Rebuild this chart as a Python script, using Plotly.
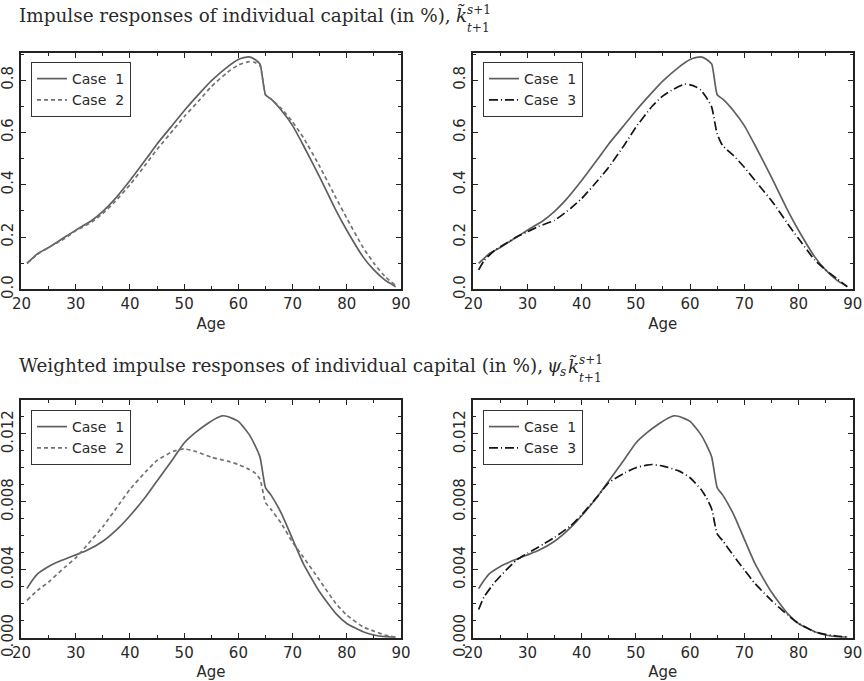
import plotly.graph_objects as go

# ---------------- data ----------------
age_c1_top = [21, 23, 25, 28, 30, 33, 35, 37, 40, 43, 45, 48, 50, 53, 55, 58, 60, 61, 62, 63, 64, 65, 66, 68, 70, 72, 75, 78, 80, 83, 85, 87, 89]
val_c1_top = [0.099, 0.137, 0.160, 0.200, 0.226, 0.264, 0.298, 0.340, 0.416, 0.499, 0.556, 0.632, 0.683, 0.753, 0.797, 0.851, 0.879, 0.886, 0.889, 0.880, 0.861, 0.744, 0.728, 0.683, 0.626, 0.550, 0.429, 0.302, 0.226, 0.124, 0.074, 0.036, 0.010]

age_c2_top = [21, 23, 25, 28, 30, 33, 35, 37, 40, 43, 45, 48, 50, 53, 55, 58, 60, 62, 63, 64, 65, 66, 68, 70, 72, 75, 78, 80, 83, 85, 87, 89]
val_c2_top = [0.099, 0.135, 0.160, 0.195, 0.224, 0.258, 0.290, 0.330, 0.400, 0.480, 0.535, 0.610, 0.660, 0.728, 0.775, 0.830, 0.858, 0.871, 0.868, 0.855, 0.744, 0.728, 0.690, 0.640, 0.580, 0.470, 0.350, 0.272, 0.160, 0.100, 0.050, 0.015]

age_c3_top = [21, 22, 24, 26, 28, 30, 32, 35, 38, 40, 43, 45, 48, 50, 53, 55, 57, 59, 60, 61, 62, 63, 64, 65, 66, 68, 70, 73, 75, 78, 80, 83, 85, 87, 89]
val_c3_top = [0.074, 0.110, 0.150, 0.175, 0.200, 0.220, 0.240, 0.264, 0.310, 0.347, 0.417, 0.467, 0.556, 0.620, 0.700, 0.740, 0.766, 0.785, 0.782, 0.775, 0.762, 0.734, 0.696, 0.594, 0.550, 0.512, 0.467, 0.390, 0.340, 0.251, 0.194, 0.112, 0.074, 0.042, 0.010]

age_c1_w = [21, 22, 23, 25, 27, 30, 32, 35, 38, 40, 43, 45, 48, 50, 52, 54, 56, 57, 58, 60, 62, 63, 64, 65, 66, 68, 70, 72, 75, 78, 80, 83, 85, 87, 89]
val_c1_w = [0.00289, 0.00338, 0.00377, 0.00420, 0.00450, 0.00488, 0.00513, 0.00568, 0.00650, 0.00718, 0.00835, 0.00923, 0.01056, 0.01147, 0.01206, 0.01254, 0.01294, 0.01307, 0.01303, 0.01274, 0.01196, 0.01137, 0.01063, 0.00884, 0.00841, 0.00728, 0.00581, 0.00435, 0.00269, 0.00142, 0.00084, 0.00035, 0.00016, 0.00006, 0.00002]

age_c2_w = [21, 23, 25, 28, 30, 32, 35, 38, 40, 43, 45, 48, 50, 52, 55, 58, 60, 62, 63, 64, 65, 66, 68, 70, 72, 75, 78, 80, 83, 85, 87, 89]
val_c2_w = [0.00220, 0.00280, 0.00328, 0.00416, 0.00470, 0.00542, 0.00654, 0.00786, 0.00874, 0.00981, 0.01044, 0.01098, 0.01112, 0.01098, 0.01063, 0.01040, 0.01020, 0.00991, 0.00972, 0.00933, 0.00796, 0.00757, 0.00669, 0.00562, 0.00474, 0.00338, 0.00201, 0.00133, 0.00064, 0.00039, 0.00016, 0.00004]

age_c3_w = [21, 22, 24, 26, 28, 30, 33, 35, 38, 40, 43, 45, 48, 50, 52, 53, 55, 58, 60, 62, 63, 64, 65, 66, 68, 70, 72, 75, 78, 80, 83, 85, 87, 89]
val_c3_w = [0.00166, 0.00240, 0.00328, 0.00396, 0.00458, 0.00497, 0.00552, 0.00591, 0.00660, 0.00724, 0.00835, 0.00913, 0.00972, 0.01001, 0.01016, 0.01020, 0.01011, 0.00981, 0.00942, 0.00874, 0.00825, 0.00757, 0.00611, 0.00572, 0.00484, 0.00400, 0.00318, 0.00220, 0.00133, 0.00084, 0.00035, 0.00020, 0.00010, 0.00004]

x_ticks = [20, 30, 40, 50, 60, 70, 80, 90]
y_ticks_top = [0.0, 0.2, 0.4, 0.6, 0.8]
y_ticks_bot = [0.000, 0.004, 0.008, 0.012]
title_top = "Impulse responses of individual capital (in %),"
title_bot = "Weighted impulse responses of individual capital (in %),"

# ---------------- layout helpers ----------------
W, H = 864, 681
def px(x): return x / W
def py(y): return 1 - y / H

C1 = "#5f5f5f"
C2 = "#727272"
C3 = "#151515"
FONT = "DejaVu Sans"
TXT = "#2a2a2a"

fig = go.Figure()

panels = [
    ("x", "y", "legend", [(age_c1_top, val_c1_top, "Case  1", C1, "solid"),
                          (age_c2_top, val_c2_top, "Case  2", C2, "4px,3px")]),
    ("x2", "y2", "legend2", [(age_c1_top, val_c1_top, "Case  1", C1, "solid"),
                             (age_c3_top, val_c3_top, "Case  3", C3, "9px,3px,1px,3px")]),
    ("x3", "y3", "legend3", [(age_c1_w, val_c1_w, "Case  1", C1, "solid"),
                             (age_c2_w, val_c2_w, "Case  2", C2, "4px,3px")]),
    ("x4", "y4", "legend4", [(age_c1_w, val_c1_w, "Case  1", C1, "solid"),
                             (age_c3_w, val_c3_w, "Case  3", C3, "9px,3px,1px,3px")]),
]
for xa, ya, lg, series in panels:
    for ages, vals, name, col, dash in series:
        fig.add_trace(go.Scatter(x=ages, y=vals, mode="lines", name=name,
                                 line=dict(color=col, width=1.7, dash=dash, shape="spline", smoothing=0.5),
                                 xaxis=xa, yaxis=ya, legend=lg))

xl = [px(21), px(401)]
xr = [px(472.7), px(852.7)]
yt = [py(289.3), py(52.7)]
yb = [py(637.7), py(400)]

def xaxis_cfg(dom, anchor):
    return dict(domain=dom, anchor=anchor, range=[19.9, 90], tickvals=x_ticks, automargin=False,
                ticks="inside", ticklen=5, tickwidth=1, tickcolor="#222",
                minor=dict(dtick=5, tick0=0, ticks="inside", ticklen=3, tickcolor="#222"),
                showline=True, linewidth=2, linecolor="#222", mirror="ticks",
                showgrid=False, zeroline=False,
                tickfont=dict(family=FONT, size=15, color=TXT),
                title=dict(text="Age", font=dict(family=FONT, size=15, color=TXT), standoff=6))

def yaxis_cfg(dom, anchor, rng, tv, fmt, mdt):
    return dict(domain=dom, anchor=anchor, range=rng, tickvals=tv, tickformat=fmt, automargin=False,
                ticks="inside", ticklen=5, tickwidth=1, tickcolor="#222",
                minor=dict(dtick=mdt, tick0=0, ticks="inside", ticklen=3, tickcolor="#222"),
                showline=True, linewidth=2, linecolor="#222", mirror="ticks",
                showgrid=False, zeroline=False, tickangle=-90,
                tickfont=dict(family=FONT, size=15, color=TXT))

fig.update_layout(
    width=W, height=H, margin=dict(l=0, r=0, t=0, b=0, autoexpand=False),
    paper_bgcolor="white", plot_bgcolor="white",
    xaxis=xaxis_cfg(xl, "y"), yaxis=yaxis_cfg(yt, "x", [0, 0.905], y_ticks_top, ".1f", 0.1),
    xaxis2=xaxis_cfg(xr, "y2"), yaxis2=yaxis_cfg(yt, "x2", [0, 0.905], y_ticks_top, ".1f", 0.1),
    xaxis3=xaxis_cfg(xl, "y3"), yaxis3=yaxis_cfg(yb, "x3", [0, 0.014], y_ticks_bot, ".3f", 0.001),
    xaxis4=xaxis_cfg(xr, "y4"), yaxis4=yaxis_cfg(yb, "x4", [0, 0.014], y_ticks_bot, ".3f", 0.001),
)

def legend_cfg(x, y):
    return dict(x=px(x), y=py(y), xanchor="left", yanchor="top", xref="paper", yref="paper",
                bgcolor="white", bordercolor="#333", borderwidth=1,
                font=dict(family=FONT, size=14, color=TXT), itemwidth=30,
                tracegroupgap=0)

fig.update_layout(legend=legend_cfg(31, 62), legend2=legend_cfg(483, 62),
                  legend3=legend_cfg(31, 410), legend4=legend_cfg(483, 410))

SERIF = "DejaVu Serif"
def ann(text, x, y, size, family=SERIF):
    fig.add_annotation(text=text, x=px(x), y=py(y), xref="paper", yref="paper",
                       xanchor="left", yanchor="middle", showarrow=False, borderpad=0,
                       font=dict(family=family, size=size, color=TXT))

ann(title_top, 18, 15.5, 18.4)
ann("<i>k̃</i>", 455, 15.5, 18.4)
ann("<i>s</i>+1", 466, 10, 12)
ann("<i>t</i>+1", 466, 28, 12)

ann(title_bot, 18, 366, 18.4)
ann("<i>ψ</i>", 546, 366, 18.4)
ann("<i>s</i>", 559, 372, 12)
ann("<i>k̃</i>", 567, 366, 18.4)
ann("<i>s</i>+1", 578, 360, 12)
ann("<i>t</i>+1", 578, 378, 12)

fig.write_html("out.html", config={"displayModeBar": False},
               post_script="document.body.style.margin='0px';document.body.style.overflow='hidden';")
